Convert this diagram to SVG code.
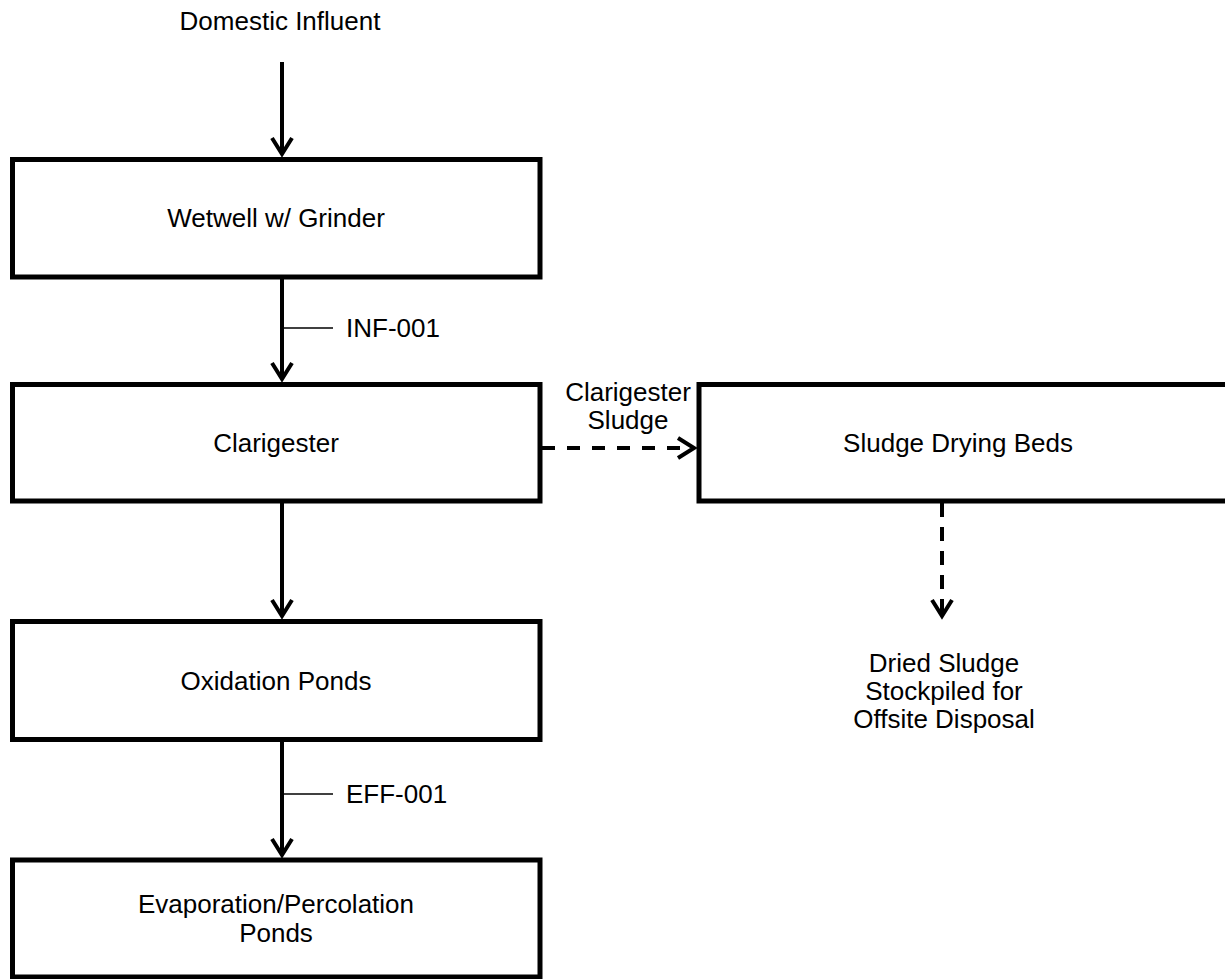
<svg xmlns="http://www.w3.org/2000/svg" width="1225" height="979" viewBox="0 0 1225 979">
<style>
  .box { fill: #ffffff; stroke: #000000; stroke-width: 5; }
  .t { font-family: "Liberation Sans", Arial, sans-serif; font-size: 26px; fill: #000000; }
  .c { text-anchor: middle; }
  .flow { fill: none; stroke: #000000; stroke-width: 4; }
  .dash { stroke-dasharray: 13 12; }
  .dashv { stroke-dasharray: 14 10; }
  .tick { fill: none; stroke: #000000; stroke-width: 1.5; }
</style>
<defs>
  <marker id="arrow" markerUnits="userSpaceOnUse" markerWidth="30" markerHeight="30" viewBox="-22 -15 30 30" refX="0" refY="0" orient="auto">
    <path d="M-16,-10 L0,0 L-16,10" fill="none" stroke="#000000" stroke-width="4" stroke-linejoin="miter"/>
  </marker>
</defs>
<rect width="1225" height="979" fill="#ffffff"/>

<g id="connectors">
  <line class="flow" x1="282" y1="62" x2="282" y2="154" marker-end="url(#arrow)"/>
  <line class="flow" x1="282" y1="279" x2="282" y2="379" marker-end="url(#arrow)"/>
  <line class="tick" x1="282" y1="328" x2="333" y2="328"/>
  <line class="flow" x1="282" y1="503" x2="282" y2="616" marker-end="url(#arrow)"/>
  <line class="flow" x1="282" y1="741" x2="282" y2="855" marker-end="url(#arrow)"/>
  <line class="tick" x1="282" y1="794" x2="333" y2="794"/>
  <line class="flow dash" x1="542" y1="448" x2="694" y2="448" marker-end="url(#arrow)"/>
  <line class="flow dashv" x1="942" y1="503" x2="942" y2="616" marker-end="url(#arrow)"/>
  <text class="t" x="346" y="337">INF-001</text>
  <text class="t" x="346" y="803">EFF-001</text>
  <text class="t c" x="628" y="401">Clarigester</text>
  <text class="t c" x="628" y="429">Sludge</text>
</g>

<g id="influent">
  <text class="t c" x="280" y="30">Domestic Influent</text>
</g>

<g id="wetwell">
  <rect class="box" x="12.5" y="159.5" width="527.5" height="117.5"/>
  <text class="t c" x="276" y="227">Wetwell w/ Grinder</text>
</g>

<g id="clarigester">
  <rect class="box" x="12.5" y="384.5" width="527.5" height="116.5"/>
  <text class="t c" x="276" y="452">Clarigester</text>
</g>

<g id="oxidation">
  <rect class="box" x="12.5" y="621.5" width="527.5" height="118"/>
  <text class="t c" x="276" y="690">Oxidation Ponds</text>
</g>

<g id="evaporation">
  <rect class="box" x="12.5" y="860" width="527.5" height="117"/>
  <text class="t c" x="276" y="913">Evaporation/Percolation</text>
  <text class="t c" x="276" y="942">Ponds</text>
</g>

<g id="drying-beds">
  <rect class="box" x="699" y="384.5" width="540" height="116.5"/>
  <text class="t c" x="958" y="452">Sludge Drying Beds</text>
</g>

<g id="dried-sludge">
  <text class="t c" x="944" y="672">Dried Sludge</text>
  <text class="t c" x="944" y="700">Stockpiled for</text>
  <text class="t c" x="944" y="728">Offsite Disposal</text>
</g>
</svg>
